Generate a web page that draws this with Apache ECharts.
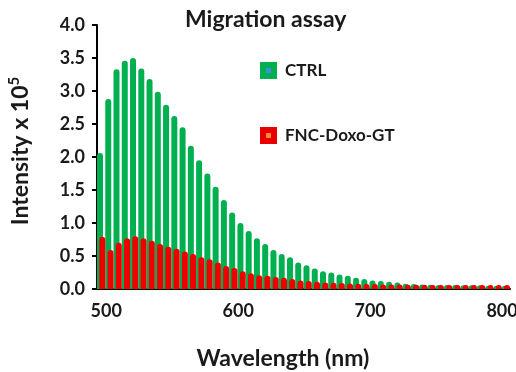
<!DOCTYPE html>
<html><head><meta charset="utf-8">
<script src="https://cdn.jsdelivr.net/npm/echarts@6/dist/echarts.min.js"></script>
<style>html,body{margin:0;padding:0;background:#fff}#c{width:516px;height:372px}</style>
</head><body><div id="c"></div>
<script>
// wavelength (nm) of each bar
const wavelengths = [497, 503, 509, 516, 522, 528, 535, 541, 547, 554,
  560, 566, 573, 579, 585, 592, 598, 604, 611, 617,
  623, 630, 636, 642, 649, 655, 661, 668, 674, 680,
  687, 693, 699, 706, 712, 718, 725, 731, 737, 744,
  750, 756, 763, 769, 775, 782, 788, 794, 801, 807];
// Intensity x 10^5
const ctrl = [2.06, 2.88, 3.33, 3.46, 3.50, 3.34, 3.18, 2.99, 2.79, 2.62,
  2.45, 2.17, 1.95, 1.75, 1.55, 1.35, 1.16, 1.00, 0.88, 0.77,
  0.68, 0.59, 0.53, 0.48, 0.40, 0.36, 0.31, 0.27, 0.25, 0.22,
  0.20, 0.17, 0.15, 0.13, 0.12, 0.11, 0.10, 0.08, 0.076, 0.07,
  0.065, 0.06, 0.06, 0.06, 0.055, 0.055, 0.055, 0.05, 0.05, 0.05];
const fnc = [0.79, 0.59, 0.70, 0.77, 0.80, 0.77, 0.73, 0.68, 0.64, 0.61,
  0.57, 0.53, 0.48, 0.45, 0.40, 0.35, 0.32, 0.27, 0.24, 0.21,
  0.20, 0.18, 0.17, 0.15, 0.13, 0.12, 0.11, 0.10, 0.095, 0.09,
  0.085, 0.08, 0.075, 0.075, 0.07, 0.07, 0.07, 0.065, 0.065, 0.065,
  0.06, 0.06, 0.06, 0.06, 0.06, 0.06, 0.06, 0.06, 0.06, 0.06];
const xTickLabels = [500, 600, 700, 800];
const seriesNames = ['CTRL', 'FNC-Doxo-GT'];

const FONT = 'Lato';
const TXT = '#1a1a1a';
const chart = echarts.init(document.getElementById('c'), null, {renderer: 'canvas'});
chart.setOption({
  animation: false,
  backgroundColor: '#ffffff',
  title: {
    text: 'Migration assay', left: 185, top: 8, padding: 0,
    textStyle: {fontFamily: FONT, fontSize: 23, fontWeight: 'bold', color: TXT}
  },
  legend: {
    orient: 'vertical', left: 260, top: 62, padding: 0, itemGap: 48,
    itemWidth: 11, itemHeight: 11, icon: 'rect',
    textStyle: {fontFamily: FONT, fontSize: 17, fontWeight: 'bold', color: TXT, padding: [0, 0, 0, 6]},
    data: [
      {name: seriesNames[0], itemStyle: {color: '#3f8fdc', borderColor: '#00b050', borderWidth: 6}},
      {name: seriesNames[1], itemStyle: {color: '#ff8a30', borderColor: '#e80000', borderWidth: 6}}
    ]
  },
  grid: {left: 97, right: 6, top: 25, bottom: 83, containLabel: false, outerBoundsMode: 'none'},
  xAxis: [{
    type: 'category', data: wavelengths, boundaryGap: true,
    axisLine: {lineStyle: {color: '#000', width: 2}},
    axisTick: {interval: 0, length: 4, lineStyle: {color: '#000', width: 1.5}},
    axisLabel: {show: false}, splitLine: {show: false}
  }, {
    type: 'value', min: 493, max: 806, position: 'bottom',
    axisLine: {show: false}, axisTick: {show: false}, splitLine: {show: false},
    axisLabel: {customValues: xTickLabels, margin: 13, fontFamily: FONT, fontSize: 18, fontWeight: 'bold', color: TXT},
    name: 'Wavelength (nm)', nameLocation: 'middle', nameGap: 58,
    nameTextStyle: {fontFamily: FONT, fontSize: 23, fontWeight: 'bold', color: TXT, padding: [0, 41, 0, 0]}
  }],
  yAxis: {
    type: 'value', min: 0, max: 4, interval: 0.5,
    axisLine: {show: true, lineStyle: {color: '#000', width: 2}},
    axisTick: {show: true, length: 5, lineStyle: {color: '#000', width: 2}},
    splitLine: {show: false},
    axisLabel: {margin: 12, fontFamily: FONT, fontSize: 18, fontWeight: 'bold', color: TXT,
      formatter: v => v.toFixed(1)},
    name: '{a|Intensity x 10}{s|5}', nameLocation: 'middle', nameGap: 62,
    nameTextStyle: {
      padding: [0, 0, 0, 12],
      rich: {
        a: {fontFamily: FONT, fontSize: 23, fontWeight: 'bold', color: TXT, lineHeight: 28},
        s: {fontFamily: FONT, fontSize: 15, fontWeight: 'bold', color: TXT, verticalAlign: 'top', lineHeight: 28, padding: [0, 0, 10, 0]}
      }
    }
  },
  series: [{
    name: seriesNames[0], type: 'bar', data: ctrl, barWidth: 6, barGap: '-62%',
    itemStyle: {color: '#00b050', borderRadius: [3, 3, 0, 0]}
  }, {
    name: seriesNames[1], type: 'bar', data: fnc, barWidth: 6,
    itemStyle: {color: '#ee0000', borderRadius: [3, 3, 0, 0]}
  }]
});
</script></body></html>
